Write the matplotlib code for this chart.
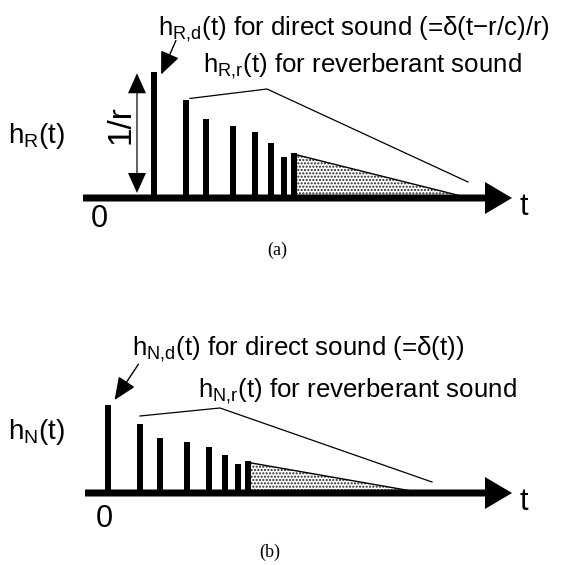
import matplotlib
matplotlib.use("Agg")
import matplotlib.pyplot as plt

# fonts: sans for the labels, serif for the captions
plt.rcParams['font.family'] = ['Liberation Sans', 'DejaVu Sans']
plt.rcParams['mathtext.fontset'] = 'custom'
plt.rcParams['mathtext.rm'] = 'Liberation Sans'
plt.rcParams['mathtext.it'] = 'Liberation Sans'
plt.rcParams['hatch.linewidth'] = 1.0

# reflections: delay after the direct sound and amplitude relative to it
refl_delay = [32, 52, 79, 101, 117, 130, 140]
refl_amp = [0.78, 0.63, 0.575, 0.52, 0.435, 0.325, 0.36]
tail_len = 315          # where the dense reverberant tail dies out

# panel a: direct sound arrives at t = r/c with height 1/r
direct_a = 55
bracket_a_t = [36, 113, 314]
bracket_a_amp = [0.79, 0.865, 0.127]
# panel b: direct sound at t = 0
direct_b = 0
bracket_b_t = [32, 112, 324]
bracket_b_amp = [0.875, 0.966, 0.125]

W, H = 563, 565
fig = plt.figure(figsize=(W / 100, H / 100), dpi=100)
FS = 18.6


def panel(top_px, bot_px, x0_px, axis_px, unit_px):
    ax = fig.add_axes([0, 1 - bot_px / H, 1, (bot_px - top_px) / H])
    ax.set_xlim(-x0_px, W - x0_px)
    ax.set_ylim(-(bot_px - axis_px) / unit_px, (axis_px - top_px) / unit_px)
    ax.axis('off')
    return ax


def impulse_response(ax, direct, unit_px, start, tip, bracket_t, bracket_amp):
    times = [direct] + [direct + d for d in refl_delay]
    amps = [1.0] + refl_amp
    ax.bar(times, amps, width=6, color='k', align='center')
    # reverberant tail
    tx = [times[-1] + 3, direct + tail_len]
    ty = [amps[-1] * 0.95, 0]
    ax.fill_between(tx, ty, 0, facecolor='white', edgecolor='#222222', hatch='.....', lw=0)
    ax.plot(tx, ty, color='k', lw=1.0)
    # time axis with arrow
    ax.arrow(start, 0, tip - start, 0, width=7 / unit_px, head_width=32 / unit_px,
             head_length=27, length_includes_head=True, color='k', lw=0)
    # bracket over the reverberant part
    ax.plot([direct + t for t in bracket_t], bracket_amp, color='k', lw=0.9)
    return times


# ---- (a) ----
ax_a = panel(0, 280, 99, 198, 126)
impulse_response(ax_a, direct_a, 126, -16, 413, bracket_a_t, bracket_a_amp)
# 1/r double arrow
ax_a.arrow(38, 0.5, 0, 0.49, width=1.2, head_width=18, head_length=20 / 126,
           length_includes_head=True, color='k', lw=0)
ax_a.arrow(38, 0.5, 0, -0.46, width=1.2, head_width=18, head_length=20 / 126,
           length_includes_head=True, color='k', lw=0)
ax_a.text(22, 0.58, '1/r', rotation=90, ha='center', va='center', fontsize=24)
ax_a.annotate('', xy=(61, 0.96), xytext=(78, 1.27),
              arrowprops=dict(arrowstyle='-|>,head_length=1.4,head_width=0.6',
                              mutation_scale=10, color='k', lw=1.0))
ax_a.text(59, 1.294, r'h$_{\mathrm{R{,}d}}$(t) for direct sound (=δ(t−r/c)/r)',
          ha='left', va='baseline', fontsize=FS)
ax_a.text(104, 1.0, r'h$_{\mathrm{R{,}r}}$(t) for reverberant sound',
          ha='left', va='baseline', fontsize=FS)
ax_a.text(-62, 0.49, r'h$_{\mathrm{R}}$(t)', ha='center', va='center', fontsize=20)
ax_a.text(0, -0.163, '0', ha='center', va='center', fontsize=22)
ax_a.text(425, -0.071, 't', ha='center', va='center', fontsize=22)

# ---- (b) ----
ax_b = panel(280, 565, 108, 493, 88)
impulse_response(ax_b, direct_b, 88, -23, 404, bracket_b_t, bracket_b_amp)
ax_b.annotate('', xy=(5, 1.03), xytext=(32, 1.49),
              arrowprops=dict(arrowstyle='-|>,head_length=1.4,head_width=0.6',
                              mutation_scale=10, color='k', lw=1.0))
ax_b.text(24, 1.568, r'h$_{\mathrm{N{,}d}}$(t) for direct sound (=δ(t))',
          ha='left', va='baseline', fontsize=FS)
ax_b.text(90, 1.09, r'h$_{\mathrm{N{,}r}}$(t) for reverberant sound',
          ha='left', va='baseline', fontsize=FS)
ax_b.text(-71, 0.69, r'h$_{\mathrm{N}}$(t)', ha='center', va='center', fontsize=20)
ax_b.text(-4, -0.295, '0', ha='center', va='center', fontsize=22)
ax_b.text(416, -0.10, 't', ha='center', va='center', fontsize=22)

# captions
fig.text(277 / W, 1 - 250 / H, '(a)', ha='center', va='center', fontsize=13,
         family=['Liberation Serif', 'DejaVu Serif'])
fig.text(270 / W, 1 - 552 / H, '(b)', ha='center', va='center', fontsize=13,
         family=['Liberation Serif', 'DejaVu Serif'])

fig.savefig('out.png', dpi=100, facecolor='white')
